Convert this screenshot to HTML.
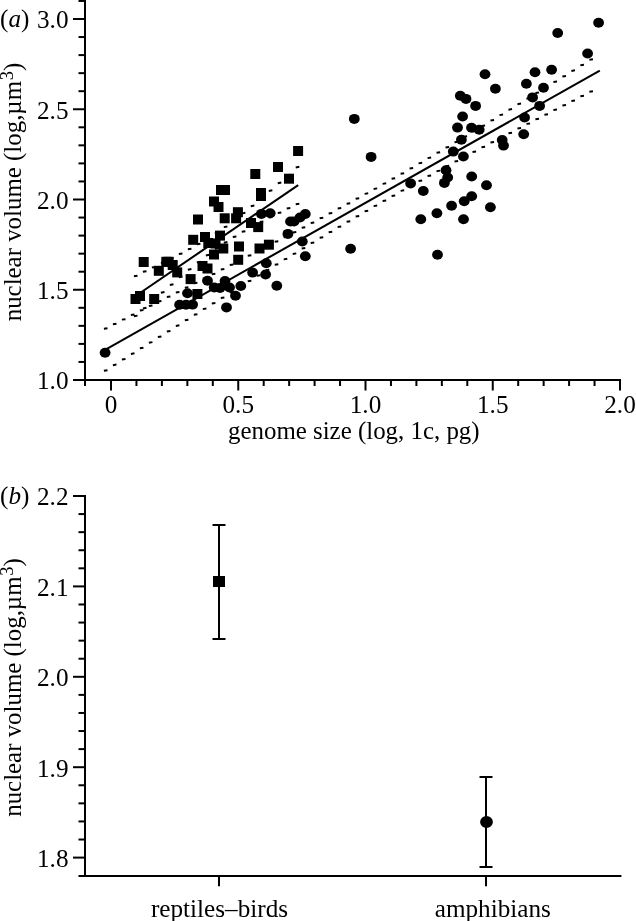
<!DOCTYPE html><html><head><meta charset="utf-8"><style>html,body{margin:0;padding:0;background:#fff;}svg{display:block;filter:grayscale(1)}text{font-family:"Liberation Serif",serif;fill:#000}.t{opacity:0.999}</style></head><body>
<svg width="636" height="921" viewBox="0 0 636 921">
<rect width="636" height="921" fill="#fff"/>
<g stroke="#000" stroke-width="2.0" fill="none"><line x1="85.00" y1="-0.05" x2="85.00" y2="386.00"/><line x1="73" y1="380.00" x2="621.00" y2="380.00"/><line x1="78.50" y1="361.95" x2="85.00" y2="361.95"/><line x1="78.50" y1="343.90" x2="85.00" y2="343.90"/><line x1="78.50" y1="325.85" x2="85.00" y2="325.85"/><line x1="78.50" y1="307.80" x2="85.00" y2="307.80"/><line x1="73.00" y1="289.75" x2="85.00" y2="289.75"/><line x1="78.50" y1="271.70" x2="85.00" y2="271.70"/><line x1="78.50" y1="253.65" x2="85.00" y2="253.65"/><line x1="78.50" y1="235.60" x2="85.00" y2="235.60"/><line x1="78.50" y1="217.55" x2="85.00" y2="217.55"/><line x1="73.00" y1="199.50" x2="85.00" y2="199.50"/><line x1="78.50" y1="181.45" x2="85.00" y2="181.45"/><line x1="78.50" y1="163.40" x2="85.00" y2="163.40"/><line x1="78.50" y1="145.35" x2="85.00" y2="145.35"/><line x1="78.50" y1="127.30" x2="85.00" y2="127.30"/><line x1="73.00" y1="109.25" x2="85.00" y2="109.25"/><line x1="78.50" y1="91.20" x2="85.00" y2="91.20"/><line x1="78.50" y1="73.15" x2="85.00" y2="73.15"/><line x1="78.50" y1="55.10" x2="85.00" y2="55.10"/><line x1="78.50" y1="37.05" x2="85.00" y2="37.05"/><line x1="73.00" y1="19.00" x2="85.00" y2="19.00"/><line x1="78.50" y1="0.95" x2="85.00" y2="0.95"/><line x1="111.00" y1="380.00" x2="111.00" y2="390.50"/><line x1="136.45" y1="380.00" x2="136.45" y2="386.00"/><line x1="161.90" y1="380.00" x2="161.90" y2="386.00"/><line x1="187.35" y1="380.00" x2="187.35" y2="386.00"/><line x1="212.80" y1="380.00" x2="212.80" y2="386.00"/><line x1="238.25" y1="380.00" x2="238.25" y2="390.50"/><line x1="263.70" y1="380.00" x2="263.70" y2="386.00"/><line x1="289.15" y1="380.00" x2="289.15" y2="386.00"/><line x1="314.60" y1="380.00" x2="314.60" y2="386.00"/><line x1="340.05" y1="380.00" x2="340.05" y2="386.00"/><line x1="365.50" y1="380.00" x2="365.50" y2="390.50"/><line x1="390.95" y1="380.00" x2="390.95" y2="386.00"/><line x1="416.40" y1="380.00" x2="416.40" y2="386.00"/><line x1="441.85" y1="380.00" x2="441.85" y2="386.00"/><line x1="467.30" y1="380.00" x2="467.30" y2="386.00"/><line x1="492.75" y1="380.00" x2="492.75" y2="390.50"/><line x1="518.20" y1="380.00" x2="518.20" y2="386.00"/><line x1="543.65" y1="380.00" x2="543.65" y2="386.00"/><line x1="569.10" y1="380.00" x2="569.10" y2="386.00"/><line x1="594.55" y1="380.00" x2="594.55" y2="386.00"/><line x1="620.00" y1="380.00" x2="620.00" y2="390.50"/></g>
<g class="t" font-size="25.2"><text x="68.5" y="28.30" text-anchor="end">3.0</text><text x="68.5" y="118.55" text-anchor="end">2.5</text><text x="68.5" y="208.80" text-anchor="end">2.0</text><text x="68.5" y="299.05" text-anchor="end">1.5</text><text x="68.5" y="389.30" text-anchor="end">1.0</text><text x="111.00" y="413" text-anchor="middle">0</text><text x="238.25" y="413" text-anchor="middle">0.5</text><text x="365.50" y="413" text-anchor="middle">1.0</text><text x="492.75" y="413" text-anchor="middle">1.5</text><text x="620.00" y="413" text-anchor="middle">2.0</text><text x="228" y="438.5" font-size="24.9">genome size (log, 1c, pg)</text><text x="0" y="27">(<tspan font-style="italic">a</tspan>)</text><text transform="translate(21.2,321.3) rotate(-90)" font-size="24.9">nuclear volume (log,µm<tspan dy="-8.5" dx="0.8" font-size="18.5">3</tspan><tspan dy="8.5">)</tspan></text></g>
<g stroke="#000" stroke-width="2.05" stroke-linecap="butt">
<line x1="105.1" y1="349.81" x2="599.8" y2="70.60"/>
<line x1="136" y1="295.76" x2="298.2" y2="185.03"/>
</g>
<path d="M103.90,328.67L107.50,328.18M112.89,324.15L116.49,323.66M121.88,319.63L125.48,319.14M130.87,315.10L134.47,314.61M139.86,310.57L143.46,310.08M148.85,306.03L152.45,305.55M157.84,301.49L161.44,301.01M166.83,296.95L170.43,296.46M175.82,292.40L179.42,291.91M184.81,287.85L188.41,287.36M193.80,283.28L197.40,282.80M202.79,278.72L206.39,278.23M211.78,274.14L215.38,273.65M220.77,269.56L224.37,269.07M229.76,264.96L233.36,264.47M238.75,260.36L242.35,259.87M247.74,255.74L251.34,255.25M256.73,251.11L260.33,250.62M265.72,246.47L269.32,245.98M274.71,241.81L278.31,241.32M283.70,237.14L287.30,236.64M292.69,232.44L296.29,231.94M301.68,227.72L305.28,227.22M310.67,222.98L314.27,222.48M319.66,218.21L323.26,217.71M328.65,213.42L332.25,212.91M337.64,208.59L341.24,208.07M346.63,203.72L350.23,203.21M355.62,198.82L359.22,198.30M364.61,193.88L368.21,193.36M373.60,188.90L377.20,188.38M382.59,183.88L386.19,183.35M391.58,178.82L395.18,178.28M400.57,173.71L404.17,173.17M409.56,168.56L413.16,168.02M418.55,163.37L422.15,162.82M427.54,158.13L431.14,157.59M436.53,152.86L440.13,152.32M445.52,147.56L449.12,147.01M454.51,142.22L458.11,141.67M463.50,136.85L467.10,136.30M472.49,131.46L476.09,130.90M481.48,126.04L485.08,125.48M490.47,120.59L494.07,120.03M499.46,115.13L503.06,114.57M508.45,109.65L512.05,109.09M517.44,104.15L521.04,103.59M526.43,98.64L530.03,98.07M535.42,93.11L539.02,92.54M544.41,87.57L548.01,87.00M553.40,82.02L557.00,81.45M562.39,76.46L565.99,75.89M571.38,70.89L574.98,70.32M580.37,65.31L583.97,64.74M589.36,59.73L592.96,59.16M103.90,370.80L107.50,370.23M112.89,365.18L116.49,364.60M121.88,359.55L125.48,358.98M130.87,353.93L134.47,353.36M139.86,348.31L143.46,347.74M148.85,342.70L152.45,342.13M157.84,337.09L161.44,336.52M166.83,331.49L170.43,330.92M175.82,325.89L179.42,325.32M184.81,320.30L188.41,319.73M193.80,314.71L197.40,314.14M202.79,309.13L206.39,308.56M211.78,303.56L215.38,302.99M220.77,297.99L224.37,297.43M229.76,292.44L233.36,291.87M238.75,286.90L242.35,286.33M247.74,281.36L251.34,280.80M256.73,275.84L260.33,275.28M265.72,270.34L269.32,269.78M274.71,264.85L278.31,264.29M283.70,259.38L287.30,258.82M292.69,253.93L296.29,253.37M301.68,248.50L305.28,247.94M310.67,243.09L314.27,242.53M319.66,237.71L323.26,237.16M328.65,232.36L332.25,231.81M337.64,227.04L341.24,226.49M346.63,221.76L350.23,221.21M355.62,216.51L359.22,215.97M364.61,211.30L368.21,210.76M373.60,206.13L377.20,205.60M382.59,201.01L386.19,200.47M391.58,195.92L395.18,195.39M400.57,190.88L404.17,190.36M409.56,185.89L413.16,185.36M418.55,180.93L422.15,180.41M427.54,176.01L431.14,175.50M436.53,171.14L440.13,170.62M445.52,166.29L449.12,165.78M454.51,161.48L458.11,160.97M463.50,156.70L467.10,156.20M472.49,151.95L476.09,151.45M481.48,147.22L485.08,146.72M490.47,142.52L494.07,142.02M499.46,137.83L503.06,137.33M508.45,133.17L512.05,132.67M517.44,128.52L521.04,128.02M526.43,123.88L530.03,123.39M535.42,119.26L539.02,118.77M544.41,114.65L548.01,114.16M553.40,110.05L557.00,109.56M562.39,105.47L565.99,104.98M571.38,100.89L574.98,100.40M580.37,96.32L583.97,95.83M589.36,91.75L592.96,91.26M133.90,276.18L137.50,275.71M142.89,271.83L146.49,271.36M151.88,267.45L155.48,266.97M160.87,263.02L164.47,262.54M169.86,258.51L173.46,258.02M178.85,253.91L182.45,253.41M187.84,249.16L191.44,248.65M196.83,244.20L200.43,243.67M205.82,238.94L209.42,238.38M214.81,233.28L218.41,232.69M223.80,227.13L227.40,226.51M232.79,220.51L236.39,219.85M241.78,213.48L245.38,212.81M250.77,206.16L254.37,205.47M259.76,198.63L263.36,197.93M268.75,190.95L272.35,190.25M277.74,183.18L281.34,182.47M286.73,175.33L290.33,174.62M295.72,167.44L299.32,166.73M133.90,316.35L137.50,315.63M142.89,308.42L146.49,307.71M151.88,300.53L155.48,299.82M160.87,292.69L164.47,291.98M169.86,284.92L173.46,284.21M178.85,277.25L182.45,276.55M187.84,269.72L191.44,269.04M196.83,262.41L200.43,261.74M205.82,255.40L209.42,254.75M214.81,248.79L218.41,248.17M223.80,242.66L227.40,242.07M232.79,237.01L236.39,236.45M241.78,231.76L245.38,231.22M250.77,226.80L254.37,226.29M259.76,222.06L263.36,221.56M268.75,217.46L272.35,216.97M277.74,212.95L281.34,212.47M286.73,208.52L290.33,208.04M295.72,204.14L299.32,203.67" stroke="#000" stroke-width="2.0" fill="none"/>
<g fill="#000"><ellipse cx="598.6" cy="22.8" rx="5.4" ry="5.0"/><ellipse cx="557.7" cy="33" rx="5.4" ry="5.0"/><ellipse cx="587.6" cy="53.5" rx="5.4" ry="5.0"/><ellipse cx="551.6" cy="69.8" rx="5.4" ry="5.0"/><ellipse cx="535" cy="72.2" rx="5.4" ry="5.0"/><ellipse cx="526.4" cy="83.7" rx="5.4" ry="5.0"/><ellipse cx="543.5" cy="87.8" rx="5.4" ry="5.0"/><ellipse cx="532.6" cy="97.4" rx="5.4" ry="5.0"/><ellipse cx="539.6" cy="105.9" rx="5.4" ry="5.0"/><ellipse cx="524.6" cy="117.5" rx="5.4" ry="5.0"/><ellipse cx="523.7" cy="134.2" rx="5.4" ry="5.0"/><ellipse cx="485" cy="74.3" rx="5.4" ry="5.0"/><ellipse cx="495.4" cy="88.7" rx="5.4" ry="5.0"/><ellipse cx="460.3" cy="95.7" rx="5.4" ry="5.0"/><ellipse cx="466" cy="98.9" rx="5.4" ry="5.0"/><ellipse cx="475.6" cy="105.9" rx="5.4" ry="5.0"/><ellipse cx="462.6" cy="116.5" rx="5.4" ry="5.0"/><ellipse cx="457.5" cy="127.6" rx="5.4" ry="5.0"/><ellipse cx="471.5" cy="127.7" rx="5.4" ry="5.0"/><ellipse cx="479.2" cy="129.7" rx="5.4" ry="5.0"/><ellipse cx="461.4" cy="139.8" rx="5.4" ry="5.0"/><ellipse cx="502.2" cy="140" rx="5.4" ry="5.0"/><ellipse cx="503.5" cy="145.6" rx="5.4" ry="5.0"/><ellipse cx="453.3" cy="151.6" rx="5.4" ry="5.0"/><ellipse cx="463.4" cy="156.5" rx="5.4" ry="5.0"/><ellipse cx="446" cy="170.3" rx="5.4" ry="5.0"/><ellipse cx="447.7" cy="177.5" rx="5.4" ry="5.0"/><ellipse cx="444.4" cy="182.9" rx="5.4" ry="5.0"/><ellipse cx="471.7" cy="176.5" rx="5.4" ry="5.0"/><ellipse cx="410.6" cy="183.4" rx="5.4" ry="5.0"/><ellipse cx="423.3" cy="191" rx="5.4" ry="5.0"/><ellipse cx="464.2" cy="201.2" rx="5.4" ry="5.0"/><ellipse cx="471.7" cy="196.2" rx="5.4" ry="5.0"/><ellipse cx="451.6" cy="205.8" rx="5.4" ry="5.0"/><ellipse cx="436.9" cy="213.2" rx="5.4" ry="5.0"/><ellipse cx="420.8" cy="219.2" rx="5.4" ry="5.0"/><ellipse cx="463.5" cy="219.2" rx="5.4" ry="5.0"/><ellipse cx="437.5" cy="254.8" rx="5.4" ry="5.0"/><ellipse cx="486.5" cy="185.3" rx="5.4" ry="5.0"/><ellipse cx="490.4" cy="207.3" rx="5.4" ry="5.0"/><ellipse cx="354.3" cy="118.9" rx="5.4" ry="5.0"/><ellipse cx="371.1" cy="156.9" rx="5.4" ry="5.0"/><ellipse cx="350.6" cy="248.7" rx="5.4" ry="5.0"/><ellipse cx="290.5" cy="221.5" rx="5.4" ry="5.0"/><ellipse cx="294" cy="221.5" rx="5.4" ry="5.0"/><ellipse cx="300" cy="217.5" rx="5.4" ry="5.0"/><ellipse cx="305.3" cy="214" rx="5.4" ry="5.0"/><ellipse cx="287.9" cy="233.9" rx="5.4" ry="5.0"/><ellipse cx="302.3" cy="241.5" rx="5.4" ry="5.0"/><ellipse cx="305.3" cy="256.3" rx="5.4" ry="5.0"/><ellipse cx="261.4" cy="213.9" rx="5.4" ry="5.0"/><ellipse cx="270.2" cy="213.3" rx="5.4" ry="5.0"/><ellipse cx="266.3" cy="263.2" rx="5.4" ry="5.0"/><ellipse cx="252.6" cy="272.6" rx="5.4" ry="5.0"/><ellipse cx="265.6" cy="274.5" rx="5.4" ry="5.0"/><ellipse cx="276.8" cy="285.8" rx="5.4" ry="5.0"/><ellipse cx="240.8" cy="286" rx="5.4" ry="5.0"/><ellipse cx="235.5" cy="295.8" rx="5.4" ry="5.0"/><ellipse cx="226.5" cy="307.4" rx="5.4" ry="5.0"/><ellipse cx="225" cy="281" rx="5.4" ry="5.0"/><ellipse cx="229.5" cy="287.5" rx="5.4" ry="5.0"/><ellipse cx="220" cy="288" rx="5.4" ry="5.0"/><ellipse cx="214.2" cy="287.5" rx="5.4" ry="5.0"/><ellipse cx="207.5" cy="280.7" rx="5.4" ry="5.0"/><ellipse cx="179.6" cy="304.8" rx="5.4" ry="5.0"/><ellipse cx="186" cy="304.8" rx="5.4" ry="5.0"/><ellipse cx="192.6" cy="304.6" rx="5.4" ry="5.0"/><ellipse cx="187.5" cy="293.2" rx="5.4" ry="5.0"/><ellipse cx="105.1" cy="352.8" rx="5.4" ry="5.0"/><rect x="293.10" y="146.00" width="10" height="10"/><rect x="273.00" y="162.00" width="10" height="10"/><rect x="250.30" y="169.00" width="10" height="10"/><rect x="284.00" y="173.70" width="10" height="10"/><rect x="256.00" y="188.00" width="10" height="10"/><rect x="256.00" y="191.00" width="10" height="10"/><rect x="216.00" y="185.00" width="10" height="10"/><rect x="220.00" y="185.00" width="10" height="10"/><rect x="209.00" y="196.50" width="10" height="10"/><rect x="213.50" y="202.00" width="10" height="10"/><rect x="193.00" y="214.50" width="10" height="10"/><rect x="219.70" y="213.30" width="10" height="10"/><rect x="232.90" y="207.20" width="10" height="10"/><rect x="231.10" y="213.30" width="10" height="10"/><rect x="188.20" y="234.80" width="10" height="10"/><rect x="200.00" y="232.00" width="10" height="10"/><rect x="215.00" y="230.60" width="10" height="10"/><rect x="203.30" y="238.00" width="10" height="10"/><rect x="218.30" y="243.50" width="10" height="10"/><rect x="209.00" y="249.50" width="10" height="10"/><rect x="210.50" y="238.50" width="10" height="10"/><rect x="234.00" y="241.50" width="10" height="10"/><rect x="246.00" y="218.00" width="10" height="10"/><rect x="253.20" y="222.10" width="10" height="10"/><rect x="254.50" y="243.50" width="10" height="10"/><rect x="263.90" y="239.70" width="10" height="10"/><rect x="233.20" y="254.80" width="10" height="10"/><rect x="138.70" y="257.00" width="10" height="10"/><rect x="161.30" y="256.80" width="10" height="10"/><rect x="163.60" y="256.80" width="10" height="10"/><rect x="167.70" y="260.00" width="10" height="10"/><rect x="153.80" y="265.80" width="10" height="10"/><rect x="172.20" y="267.40" width="10" height="10"/><rect x="185.60" y="274.10" width="10" height="10"/><rect x="197.50" y="261.00" width="10" height="10"/><rect x="202.50" y="263.50" width="10" height="10"/><rect x="130.50" y="294.00" width="10" height="10"/><rect x="135.00" y="291.00" width="10" height="10"/><rect x="149.20" y="294.00" width="10" height="10"/><rect x="192.40" y="289.00" width="10" height="10"/></g>
<g stroke="#000" stroke-width="2.0" fill="none"><line x1="85.00" y1="495.00" x2="85.00" y2="876.68"/><line x1="78.50" y1="876" x2="621.4" y2="876"/><line x1="73.00" y1="496.00" x2="85.00" y2="496.00"/><line x1="78.50" y1="514.08" x2="85.00" y2="514.08"/><line x1="78.50" y1="532.16" x2="85.00" y2="532.16"/><line x1="78.50" y1="550.24" x2="85.00" y2="550.24"/><line x1="78.50" y1="568.32" x2="85.00" y2="568.32"/><line x1="73.00" y1="586.40" x2="85.00" y2="586.40"/><line x1="78.50" y1="604.48" x2="85.00" y2="604.48"/><line x1="78.50" y1="622.56" x2="85.00" y2="622.56"/><line x1="78.50" y1="640.64" x2="85.00" y2="640.64"/><line x1="78.50" y1="658.72" x2="85.00" y2="658.72"/><line x1="73.00" y1="676.80" x2="85.00" y2="676.80"/><line x1="78.50" y1="694.88" x2="85.00" y2="694.88"/><line x1="78.50" y1="712.96" x2="85.00" y2="712.96"/><line x1="78.50" y1="731.04" x2="85.00" y2="731.04"/><line x1="78.50" y1="749.12" x2="85.00" y2="749.12"/><line x1="73.00" y1="767.20" x2="85.00" y2="767.20"/><line x1="78.50" y1="785.28" x2="85.00" y2="785.28"/><line x1="78.50" y1="803.36" x2="85.00" y2="803.36"/><line x1="78.50" y1="821.44" x2="85.00" y2="821.44"/><line x1="78.50" y1="839.52" x2="85.00" y2="839.52"/><line x1="73.00" y1="857.60" x2="85.00" y2="857.60"/><line x1="219" y1="875.68" x2="219" y2="886.18"/><line x1="486" y1="875.68" x2="486" y2="886.18"/><line x1="219" y1="525" x2="219" y2="639"/><line x1="212.5" y1="525" x2="225.5" y2="525"/><line x1="212.5" y1="639" x2="225.5" y2="639"/><line x1="486" y1="777" x2="486" y2="867"/><line x1="479.5" y1="777" x2="492.5" y2="777"/><line x1="479.5" y1="867" x2="492.5" y2="867"/></g>
<rect x="213" y="576" width="12" height="11" fill="#000"/>
<ellipse cx="486.5" cy="822" rx="6.4" ry="6" fill="#000"/>
<g class="t" font-size="25.2"><text x="68.5" y="505.30" text-anchor="end">2.2</text><text x="68.5" y="595.70" text-anchor="end">2.1</text><text x="68.5" y="686.10" text-anchor="end">2.0</text><text x="68.5" y="776.50" text-anchor="end">1.9</text><text x="68.5" y="866.90" text-anchor="end">1.8</text><text x="219.5" y="916.5" text-anchor="middle">reptiles–birds</text><text x="492.8" y="916.5" text-anchor="middle">amphibians</text><text x="0" y="504">(<tspan font-style="italic">b</tspan>)</text><text transform="translate(21.2,816.8) rotate(-90)" font-size="24.9">nuclear volume (log,µm<tspan dy="-8.5" dx="0.8" font-size="18.5">3</tspan><tspan dy="8.5">)</tspan></text></g>
</svg></body></html>
